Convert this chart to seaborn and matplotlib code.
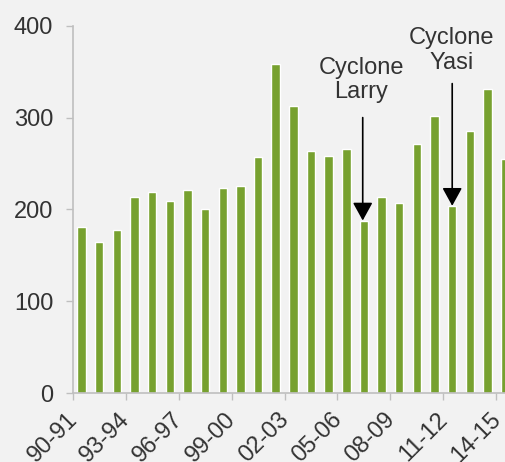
import matplotlib
matplotlib.use("Agg")
import matplotlib.pyplot as plt
import seaborn as sns
import pandas as pd

# Season labels and annual totals
seasons = ["90-91", "91-92", "92-93", "93-94", "94-95", "95-96", "96-97", "97-98",
           "98-99", "99-00", "00-01", "01-02", "02-03", "03-04", "04-05", "05-06",
           "06-07", "07-08", "08-09", "09-10", "10-11", "11-12", "12-13", "13-14",
           "14-15"]
values = [181, 165, 178, 214, 219, 209, 221, 200, 223, 226, 257, 358, 313, 264,
          258, 266, 188, 214, 207, 271, 302, 204, 285, 331, 255]
yticks = [0, 100, 200, 300, 400]

# Cyclone events: label, season index, bar value
events = ["Cyclone\nLarry", "Cyclone\nYasi"]
event_idx = [16, 21]

df = pd.DataFrame({"season": seasons, "value": values})

sns.set_theme(style="white")
plt.rcParams["font.family"] = ["Liberation Sans", "DejaVu Sans"]

bg = "#f2f2f2"
grey = "#bfbfbf"
txt = "#333333"
green = "#77a12f"

fig = plt.figure(figsize=(5.05, 4.62), dpi=100, facecolor=bg)
ax = fig.add_axes([0.144, 0.1487, 0.8738, 0.7957], facecolor=bg)

sns.barplot(data=df, x="season", y="value", color=green, width=0.48,
            saturation=1, ax=ax)

ax.set_xlim(-0.5, len(seasons) - 0.5)
ax.set_ylim(0, 400)
ax.set_yticks(yticks)
ax.set_xlabel("")
ax.set_ylabel("")

# Labels every third season, tick marks on the group boundaries
lab_pos = list(range(0, len(seasons), 3))
ax.set_xticks(lab_pos)
ax.set_xticklabels([seasons[i] for i in lab_pos], rotation=45, ha="right",
                   va="top", fontsize=17, color=txt)
ax.set_xticks([p - 0.5 for p in lab_pos], minor=True)
ax.tick_params(axis="x", which="major", length=0, pad=11)
ax.tick_params(axis="x", which="minor", length=5, width=1, color=grey,
               direction="out", bottom=True)
ax.tick_params(axis="y", length=5, width=1, color=grey, direction="out",
               pad=9, labelsize=17, labelcolor=txt, left=True)

for s in ["top", "right"]:
    ax.spines[s].set_visible(False)
for s in ["left", "bottom"]:
    ax.spines[s].set_color(grey)
    ax.spines[s].set_linewidth(1.2)

# Arrows pointing to the cyclone-affected seasons
text_x = [15.85, 20.97]
text_y = [341, 373]
arrow_x = [15.93, 21.0]
arrow_start = [300, 337]
for lab, i, tx, ty, axx, ys in zip(events, event_idx, text_x, text_y,
                                    arrow_x, arrow_start):
    ax.text(tx, ty, lab, ha="center", va="center", fontsize=17, color=txt,
            linespacing=1.12)
    ax.annotate("", xy=(axx, values[i]), xytext=(axx, ys),
                arrowprops=dict(arrowstyle="-|>,head_length=1.0,head_width=0.55",
                                mutation_scale=11, color="black", lw=1.2,
                                shrinkA=0, shrinkB=0))

fig.savefig("out.png", dpi=100, facecolor=bg)
